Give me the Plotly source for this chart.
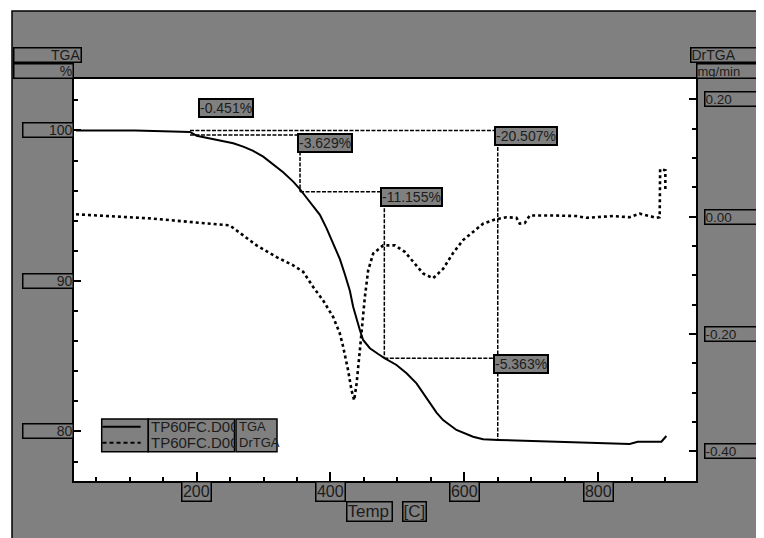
import plotly.graph_objects as go

# ---------------- data ----------------
# TGA curve (solid): temperature [C] and mass [%]
tga_temp = [19.7, 60, 108, 150, 190, 200, 214.9, 239.7, 254.7, 269.6, 284.5, 299.5, 314.4,
            329.3, 344.3, 354.3, 364.3, 374.2, 384.2, 394.2, 404.0, 414.1, 421.5, 429.0,
            433.9, 439.0, 443.9, 448.8, 458.9, 471.3, 481.3, 498.7, 513.7, 528.6, 538.5,
            548.5, 558.5, 568.3, 588.3, 613.1, 628.1, 650.5, 742.6, 847.2, 859.2, 894.6, 902.0]
tga_mass = [100.0, 100.0, 100.0, 99.95, 99.9, 99.65, 99.52, 99.30, 99.15, 98.93, 98.64, 98.26, 97.71,
            97.22, 96.60, 96.11, 95.53, 94.94, 94.39, 93.50, 92.55, 91.45, 90.45, 89.35,
            88.29, 87.41, 86.74, 86.08, 85.53, 85.15, 84.86, 84.42, 83.87, 83.20, 82.54,
            81.87, 81.25, 80.76, 80.10, 79.65, 79.48, 79.44, 79.30, 79.17, 79.32, 79.32, 79.70]

# DrTGA curve (dotted): temperature [C] and rate [mg/min]
dtg_temp = [19.7, 55.6, 130.2, 190.0, 219.9, 249.7, 269.6, 289.6, 319.5, 344.3, 359.2, 374.2,
            389.1, 404.0, 414.0, 419.0, 426.4, 431.5, 435.4, 439.0, 443.9, 446.5, 451.4, 456.3,
            463.8, 478.7, 496.2, 511.1, 526.1, 538.5, 553.4, 568.3, 583.3, 598.2, 613.1, 628.1,
            645.6, 663.0, 678.0, 682.9, 690.4, 697.8, 732.6, 767.6, 782.5, 822.3, 847.2, 862.1,
            877.1, 887.1, 892.0, 892.7, 900.5, 900.5]
dtg_rate = [0.004, 0.002, -0.003, -0.009, -0.012, -0.015, -0.032, -0.049, -0.069, -0.083, -0.094, -0.120,
            -0.143, -0.171, -0.199, -0.222, -0.262, -0.296, -0.313, -0.285, -0.228, -0.194, -0.137, -0.092,
            -0.063, -0.049, -0.049, -0.060, -0.080, -0.097, -0.105, -0.089, -0.062, -0.040, -0.026, -0.012,
            -0.005, -0.001, -0.002, -0.012, -0.011, 0.002, 0.002, 0.001, -0.002, 0.001, -0.001, 0.005,
            0.001, -0.002, -0.001, 0.081, 0.079, 0.045]

# step analysis
step_origin_temp = 190
step_temps = [200, 354.5, 480.5, 650]
step_levels = [100.0, 99.7, 95.93, 84.86, 79.44]
step_labels = ["-0.451%", "-3.629%", "-11.155%", "-5.363%"]
total_label = "-20.507%"

# ticks
x_ticks = [200, 400, 600, 800]
x_tick_labels = ["200", "400", "600", "800"]
y_ticks = [80, 90, 100]
y_tick_labels = ["80", "90", "100"]
y2_ticks = [-0.4, -0.2, 0.0, 0.2]
y2_tick_labels = ["-0.40", "-0.20", "0.00", "0.20"]

series_names = ["TP60FC.D00", "TP60FC.D00"]
series_kinds = ["TGA", "DrTGA"]

# ---------------- layout geometry (page pixels) ----------------
W, H = 764, 538
PAGE_OFF = 8          # default body margin of the html page
FIG_H = H - PAGE_OFF
L, R, T, B = 74, 696, 79, 481
PW, PH = R - L, B - T
FONT = "Liberation Sans, Arial, sans-serif"
GRAY = "#808080"
TXT = "#1c1c1c"


def px(xp):
    return (xp - L) / PW


def py(yp):
    return (B - yp) / PH


fig = go.Figure()

fig.add_trace(go.Scatter(x=tga_temp, y=tga_mass, mode="lines", name=series_kinds[0],
                         line=dict(color="black", width=2), yaxis="y", showlegend=False))
fig.add_trace(go.Scatter(x=dtg_temp, y=dtg_rate, mode="lines", name=series_kinds[1],
                         line=dict(color="black", width=2.6, dash="3px,3px"), yaxis="y2",
                         showlegend=False))

# step-analysis dashed construction lines
T1, T2, T3, T4 = step_temps
L0, L1, L2, L3, L4 = step_levels
segs = [
    ((step_origin_temp, L0), (T4, L0)),
    ((step_origin_temp, L1), (T2, L1)),
    ((T2, L1), (T2, L2)),
    ((T2, L2), (T3, L2)),
    ((T3, L2), (T3, L3)),
    ((T3, L3), (T4, L3)),
    ((T4, L0), (T4, L4)),
]
sx, sy = [], []
for (a, b) in segs:
    sx += [a[0], b[0], None]
    sy += [a[1], b[1], None]
fig.add_trace(go.Scatter(x=sx, y=sy, mode="lines", showlegend=False,
                         line=dict(color="black", width=1.5, dash="4px,1.5px"), yaxis="y"))

shapes = [
    dict(type="rect", xref="paper", yref="paper", x0=px(12), x1=px(W + 10), y0=py(H + 10), y1=py(11),
         fillcolor=GRAY, line=dict(color="black", width=1.5), layer="below"),
    dict(type="rect", xref="paper", yref="paper", x0=0, x1=1, y0=0, y1=1,
         fillcolor="white", line=dict(width=0), layer="below"),
]

annotations = []


def box(text, x, y, xref, yref, xanchor, yanchor, width=None, height=None, align="center",
        size=14, xshift=0, yshift=0, bw=1.5, bp=0):
    d = dict(text=text, x=x, y=y, xref=xref, yref=yref, xanchor=xanchor, yanchor=yanchor,
             showarrow=False, bgcolor=GRAY, bordercolor="black", borderwidth=bw, borderpad=bp,
             align=align, font=dict(family=FONT, size=size, color=TXT), xshift=xshift, yshift=yshift)
    if width is not None:
        d["width"] = width
    if height is not None:
        d["height"] = height
    annotations.append(d)


# x tick label boxes
for v, t in zip(x_ticks, x_tick_labels):
    box(t, v, 0, "x", "paper", "center", "top", width=27.6, height=17.7, size=16)
# left y tick label boxes
for v, t in zip(y_ticks, y_tick_labels):
    box(t, 0, v, "paper", "y", "right", "middle", width=49, height=13, align="right", size=14)
# right y tick label boxes
for v, t in zip(y2_ticks, y2_tick_labels):
    box(t, 1, v, "paper", "y2", "left", "middle", width=80, height=13, align="left", size=13.5, xshift=8)

# axis titles
box("TGA", 0, 1, "paper", "paper", "right", "top", width=66, height=13, align="right", size=14,
    xshift=8.3, yshift=T - 47.3)
box("%", 0, 1, "paper", "paper", "right", "top", width=57.7, height=13, align="right", size=14,
    yshift=T - 63.3)
box("DrTGA", 1, 1, "paper", "paper", "left", "top", width=90, height=13, align="left", size=14,
    xshift=-6, yshift=T - 47.3)
box("mg/min", 1, 1, "paper", "paper", "left", "top", width=90, height=13, align="left", size=13,
    yshift=T - 63.3)
box("Temp", px(369.2), 0, "paper", "paper", "center", "top", width=44, height=18, align="left",
    size=17, yshift=-20)
box("[C]", px(414.2), 0, "paper", "paper", "center", "top", width=22, height=18, align="left",
    size=17, yshift=-20)

# step labels
lab = dict(bw=2, bp=0, size=14, align="left")
box(step_labels[0], T1, L0, "x", "y", "left", "bottom", xshift=1.3, yshift=12.5, **lab)
box(step_labels[1], T2, L1, "x", "y", "left", "top", xshift=-3.5, yshift=2, **lab)
box(step_labels[2], T3, L2, "x", "y", "left", "top", xshift=-4.3, yshift=4.5, **lab)
box(total_label, T4, L0, "x", "y", "left", "top", xshift=-3.5, yshift=4.5, **lab)
box(step_labels[3], T4, L3, "x", "y", "left", "top", xshift=-4.5, yshift=4.3, **lab)

# legend (drawn as boxed table)
lg_top, lg_bot = 419, 451.7
cells = [(101.7, 148.3), (148.3, 234.5), (236.0, 277.0)]
for (a, b) in cells:
    shapes.append(dict(type="rect", xref="paper", yref="paper", x0=px(a), x1=px(b),
                       y0=py(lg_bot), y1=py(lg_top), fillcolor=GRAY,
                       line=dict(color="black", width=1.5), layer="above"))
rows = [426.7, 442.7]
dashes = ["solid", "4px,3px"]
for i, ry in enumerate(rows):
    shapes.append(dict(type="line", xref="paper", yref="paper", x0=px(102.5), x1=px(140.7),
                       y0=py(ry), y1=py(ry), line=dict(color="black", width=2, dash=dashes[i]),
                       layer="above"))
    annotations.append(dict(text=series_names[i], x=px(149.3), y=py(ry), xref="paper", yref="paper",
                            xanchor="left", yanchor="middle", showarrow=False, width=84, height=15,
                            align="left", font=dict(family=FONT, size=15, color=TXT)))
    annotations.append(dict(text=series_kinds[i], x=px(236.5), y=py(ry), xref="paper", yref="paper",
                            xanchor="left", yanchor="middle", showarrow=False, width=41, height=15,
                            align="left", font=dict(family=FONT, size=13, color=TXT)))

axis_common = dict(showline=True, linecolor="black", linewidth=1.5, showgrid=False, zeroline=False,
                   ticks="inside", tickcolor="black", tickwidth=1.5, showticklabels=False)

fig.update_layout(
    width=W - PAGE_OFF, height=FIG_H, autosize=False,
    margin=dict(l=L - PAGE_OFF, r=W - R, t=T - PAGE_OFF, b=FIG_H + PAGE_OFF - B, pad=0),
    paper_bgcolor="white", plot_bgcolor="white",
    showlegend=False,
    xaxis=dict(range=[16.7, 946.3], dtick=200, tick0=0, ticklen=9, mirror=True,
               minor=dict(ticks="inside", dtick=50, tick0=0, ticklen=4.5, tickcolor="black",
                          tickwidth=1.5, showgrid=False),
               **axis_common),
    yaxis=dict(range=[76.71, 103.42], dtick=10, tick0=0, ticklen=7,
               minor=dict(ticks="inside", dtick=2, tick0=0, ticklen=4.5, tickcolor="black",
                          tickwidth=1.5, showgrid=False),
               **axis_common),
    yaxis2=dict(range=[-0.4506, 0.2346], dtick=0.2, tick0=0, ticklen=7, overlaying="y", side="right",
                minor=dict(ticks="inside", dtick=0.05, tick0=0, ticklen=4.5, tickcolor="black",
                           tickwidth=1.5, showgrid=False),
                **axis_common),
    shapes=shapes,
    annotations=annotations,
)

fig.write_html("out.html")
